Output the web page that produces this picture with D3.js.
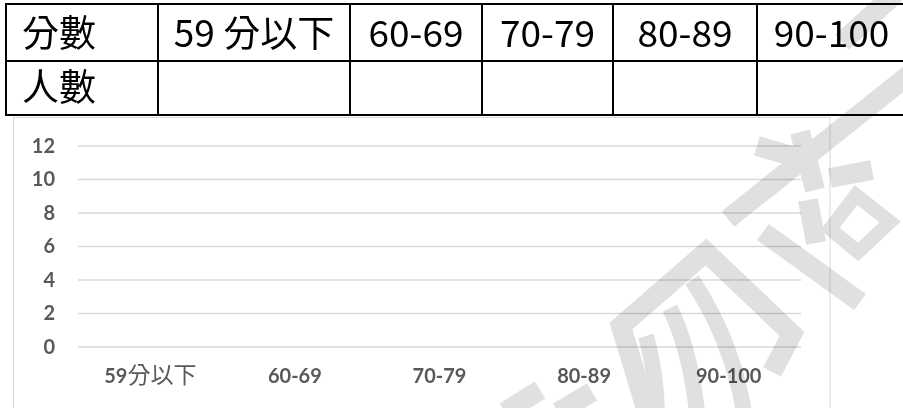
<!DOCTYPE html>
<html>
<head>
<meta charset="utf-8">
<script src="https://cdn.jsdelivr.net/npm/d3@7"></script>
<style>
  html, body { margin: 0; padding: 0; background: #fff; }
  svg { display: block; }
</style>
</head>
<body>
<div id="chart"></div>
<script>
// ---- data ----
const categories = ["59分以下", "60-69", "70-79", "80-89", "90-100"];
const tableHeaders = ["59 分以下", "60-69", "70-79", "80-89", "90-100"];
const rowLabels = ["分數", "人數"];
const counts = [null, null, null, null, null];   // blank in the source
const yTicks = [0, 2, 4, 6, 8, 10, 12];

const W = 903, H = 408;
const svg = d3.select("#chart").append("svg").attr("width", W).attr("height", H);

// ---- table ----
const colEdges = [6, 158, 350, 482, 613, 757, 906];
const rowEdges = [4, 61, 115];
const tbl = svg.append("g");
const cjk = "'Noto Sans CJK TC', 'Noto Sans CJK SC', sans-serif";

const row1 = [rowLabels[0]].concat(tableHeaders);
const row2 = [rowLabels[1]].concat(counts.map(v => v == null ? "" : String(v)));
[row1, row2].forEach((row, ri) => {
  row.forEach((t, ci) => {
    const x0 = colEdges[ci], x1 = colEdges[ci + 1];
    tbl.append("text")
      .attr("x", ci === 0 ? x0 + 16 : (x0 + x1) / 2)
      .attr("y", ri === 0 ? 47 : 101)
      .attr("text-anchor", ci === 0 ? "start" : "middle")
      .attr("font-family", cjk)
      .attr("font-size", 37)
      .attr("fill", "#000")
      .text(t);
  });
});
rowEdges.forEach(y => tbl.append("line").attr("x1", colEdges[0] - 1).attr("x2", 910)
  .attr("y1", y).attr("y2", y).attr("stroke", "#000").attr("stroke-width", 2));
colEdges.forEach(x => tbl.append("line").attr("x1", x).attr("x2", x)
  .attr("y1", rowEdges[0]).attr("y2", rowEdges[2]).attr("stroke", "#000").attr("stroke-width", 2));

// ---- chart ----
svg.append("rect").attr("x", 13.5).attr("y", 117.5).attr("width", 816.5).attr("height", 320)
  .attr("fill", "none").attr("stroke", "#d9d9d9").attr("stroke-width", 1);

const x = d3.scaleBand().domain(categories).range([78, 801]).paddingInner(0.4).paddingOuter(0.2);
const y = d3.scaleLinear().domain([0, 12]).range([347, 146]);

svg.append("g").selectAll("line").data(yTicks).join("line")
  .attr("x1", 78).attr("x2", 801)
  .attr("y1", d => y(d)).attr("y2", d => y(d))
  .attr("stroke", "#d9d9d9").attr("stroke-width", 1.5);

const yAxis = d3.axisLeft(y).tickValues(yTicks).tickSize(0).tickPadding(0);
const gy = svg.append("g").attr("transform", "translate(55,0)").call(yAxis);
gy.select(".domain").remove();
gy.selectAll("text")
  .attr("font-family", "Lato, sans-serif").attr("font-weight", 700)
  .attr("font-size", 20).attr("fill", "#595959");

// bars (empty data -> zero height)
const x2 = d3.scaleBand().domain(categories).range([78, 801]);
svg.append("g").selectAll("rect").data(categories).join("rect")
  .attr("x", (d) => x(d))
  .attr("width", x.bandwidth())
  .attr("y", (d, i) => y(counts[i] || 0))
  .attr("height", (d, i) => y(0) - y(counts[i] || 0))
  .attr("fill", "#4472c4");

const xAxis = d3.axisBottom(x2).tickSize(0).tickPadding(0);
const gx = svg.append("g").attr("transform", "translate(0,383)").call(xAxis);
gx.select(".domain").remove();
gx.selectAll("text").each(function(d) {
  const t = d3.select(this);
  t.text(null).attr("dy", 0).attr("y", 0)
    .attr("font-family", "Lato, sans-serif").attr("font-weight", 700)
    .attr("font-size", 20).attr("fill", "#595959");
  const parts = d.match(/[0-9\-]+|[^0-9\-]+/g);
  parts.forEach(p => {
    const isNum = /^[0-9\-]+$/.test(p);
    t.append("tspan").text(p)
      .attr("font-family", isNum ? "Lato, sans-serif" : cjk)
      .attr("font-weight", isNum ? 700 : 400)
      .attr("font-size", isNum ? 20 : 23);
  });
});

// ---- watermark (decorative) ----
const wm = svg.append("g")
  .attr("fill", "none").attr("stroke", "#e0e0e0").attr("stroke-width", 20)
  .style("mix-blend-mode", "multiply");
const wmPaths = [
  "M 895 -6 L 842 42",
  "M 930 58 L 728 219",
  "M 757 146 L 812 162",
  "M 800 132 L 815 190",
  "M 830 178 L 872 170",
  "M 808 200 L 816 243",
  "M 763 232 L 860 302",
  "M 856 195 L 890 222 L 858 252 L 830 229 Z",
  "M 647 412 L 621 326 L 706 252 L 792 334 L 772 372",
  "M 646 336 Q 656 372 657 412",
  "M 670 308 Q 690 350 697 412",
  "M 692 280 Q 732 340 744 412",
  "M 505 412 L 540 390",
  "M 558 412 L 592 392"
];
wm.selectAll("path").data(wmPaths).join("path").attr("d", d => d)
  .attr("stroke-width", (d, i) => i === 7 ? 14 : (i >= 9 && i <= 11 ? 16 : 20));
</script>
</body>
</html>
